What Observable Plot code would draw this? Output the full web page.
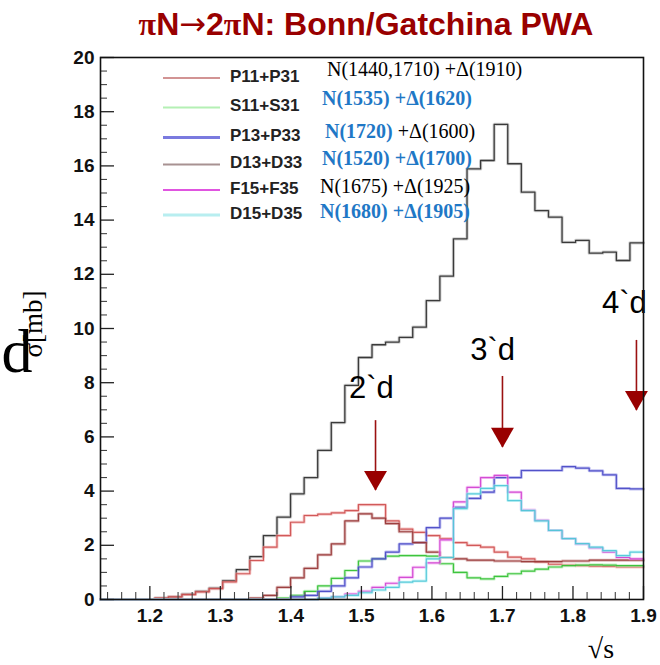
<!DOCTYPE html>
<html>
<head>
<meta charset="utf-8">
<script src="https://cdn.jsdelivr.net/npm/d3@7"></script>
<script src="https://cdn.jsdelivr.net/npm/@observablehq/plot@0.6"></script>
<style>
  body { margin: 0; background: #fff; }
  #wrap { position: relative; width: 660px; height: 665px; overflow: hidden;
          font-family: "Liberation Sans", Arial, sans-serif; }
  #title { position: absolute; left: 366px; top: 5px; transform: translateX(-50%);
           white-space: nowrap; font-weight: bold; font-size: 32px; color: #990000; }
  #title .gr { font-family: "Liberation Serif", serif; }
  #title .ar { font-family: "DejaVu Sans", sans-serif; font-weight: normal; }
  #chart { position: absolute; left: 0; top: 50px; }
  #overlay { position: absolute; left: 0; top: 0; pointer-events: none; }
</style>
</head>
<body>
<div id="wrap">
  <div id="title"><span class="gr">π</span>N<span class="ar">→</span>2<span class="gr">π</span>N: Bonn/Gatchina PWA</div>
  <div id="chart"></div>
</div>
<script>
// Histogram binning: 40 bins over sqrt(s) = 1.13 … 1.90 GeV
const xMin = 1.13, xMax = 1.90, nBins = 40;
const binEdges = d3.range(nBins + 1).map(i => xMin + (xMax - xMin) * i / nBins);

// Cross sections per bin [mb]
const total = [0, 0, 0, 0, 0.05, 0.1, 0.2, 0.3, 0.42, 0.7,
  1.1, 1.58, 2.36, 3.04, 3.9, 4.5, 5.5, 6.53, 7.9, 8.93,
  9.4, 9.5, 9.67, 10.05, 11.03, 11.93, 13.31, 15.89, 16.2, 17.53,
  16.08, 15.03, 14.35, 14.11, 13.18, 13.25, 12.78, 12.82, 12.51, 13.16];
const p11p31 = [0, 0, 0, 0, 0.05, 0.1, 0.18, 0.28, 0.4, 0.65,
  0.95, 1.44, 1.93, 2.36, 2.85, 3.1, 3.15, 3.2, 3.28, 3.5,
  3.5, 2.9, 2.6, 2.48, 2.36, 2.25, 2.1, 2.0, 1.93, 1.75,
  1.56, 1.5, 1.38, 1.3, 1.27, 1.25, 1.23, 1.22, 1.2, 1.2];
const s11s31 = [0, 0, 0, 0, 0, 0, 0, 0, 0, 0,
  0, 0, 0, 0.05, 0.15, 0.3, 0.5, 0.78, 1.07, 1.42,
  1.5, 1.6, 1.62, 1.62, 1.6, 1.32, 1.0, 0.8, 0.76, 0.85,
  0.95, 1.05, 1.12, 1.2, 1.25, 1.27, 1.28, 1.27, 1.25, 1.25];
const p13p33 = [0, 0, 0, 0, 0, 0, 0, 0, 0, 0,
  0, 0, 0, 0, 0.1, 0.15, 0.3, 0.5, 0.8, 1.2,
  1.5, 1.75, 2.05, 2.1, 2.65, 3.0, 3.4, 3.73, 3.96, 4.5,
  4.5, 4.76, 4.76, 4.76, 4.9, 4.85, 4.75, 4.6, 4.1, 4.08];
const d13d33 = [0, 0, 0, 0, 0, 0, 0, 0, 0, 0,
  0, 0.05, 0.15, 0.45, 0.8, 1.15, 1.65, 2.05, 2.9, 3.16,
  3.0, 2.8, 2.5, 2.1, 1.75, 1.55, 1.5, 1.45, 1.45, 1.42,
  1.42, 1.4, 1.4, 1.4, 1.42, 1.42, 1.45, 1.45, 1.45, 1.45];
const f15f35 = [0, 0, 0, 0, 0, 0, 0, 0, 0, 0,
  0, 0, 0, 0, 0, 0, 0.05, 0.1, 0.2, 0.3,
  0.45, 0.6, 0.82, 1.19, 1.35, 2.2, 3.6, 4.14, 4.5, 4.58,
  3.96, 3.3, 2.92, 2.55, 2.25, 2.05, 1.9, 1.75, 1.55, 1.5];
const d15d35 = [0, 0, 0, 0, 0, 0, 0, 0, 0, 0,
  0, 0, 0, 0, 0, 0, 0.05, 0.1, 0.15, 0.25,
  0.35, 0.45, 0.64, 0.68, 1.5, 1.55, 3.35, 3.9, 4.1, 4.2,
  3.65, 3.28, 2.9, 2.55, 2.25, 2.06, 1.93, 1.8, 1.62, 1.75];

// Legend entries and the resonances attributed to each wave pair
const waveNames = ["P11+P31", "S11+S31", "P13+P33", "D13+D33", "F15+F35", "D15+D35"];
const waveValues = [p11p31, s11s31, p13p33, d13d33, f15f35, d15d35];
const resonanceLabels = [
  [["N(1440,1710) +Δ(1910)", false]],
  [["N(1535) +Δ(1620)", true]],
  [["N(1720)", true], [" +Δ(1600)", false]],
  [["N(1520) +Δ(1700)", true]],
  [["N(1675) +Δ(1925)", false]],
  [["N(1680) +Δ(1905)", true]]
];

// Threshold arrows
const arrowText = ["2`d", "3`d", "4`d"];
const arrowX = [1.52, 1.70, 1.89];
const arrowTop = [6.6, 8.23, 9.56];
const arrowTip = [4.02, 5.61, 6.97];
const arrowTextX = [1.514, 1.686, 1.873];
const arrowTextY = [7.42, 8.82, 10.59];

// Axis ticks
const xMajor = [1.2, 1.3, 1.4, 1.5, 1.6, 1.7, 1.8, 1.9];
const yMajor = [0, 2, 4, 6, 8, 10, 12, 14, 16, 18, 20];
const xMinor = d3.range(57, 95, 1).map(k => k / 50).filter(v => Math.abs(v * 10 - Math.round(v * 10)) > 1e-6);
const yMinor = d3.range(1, 40, 1).map(k => k / 2).filter(v => v % 2 !== 0);

// ---- styles ----
const lineStyles = {
  "P11+P31": {stroke: "#cc4c4c", halo: "#f2a6a6", legend: "#d29494", lw: 2},
  "S11+S31": {stroke: "#2fbf2f", halo: "#a8eaa8", legend: "#b4f0b4", lw: 2},
  "P13+P33": {stroke: "#4646c4", halo: "#9a9ae8", legend: "#7a7adf", lw: 3},
  "D13+D33": {stroke: "#963232", halo: "#c89090", legend: "#a89292", lw: 2},
  "F15+F35": {stroke: "#cf3fcf", halo: "#f2a6f2", legend: "#e055e0", lw: 2},
  "D15+D35": {stroke: "#4cc6d6", halo: "#aaeef4", legend: "#b8eef0", lw: 3}
};

function steps(name, values) {
  return binEdges.map((x, i) => ({series: name, x, y: values[Math.min(i, values.length - 1)]}));
}

const W = 660, H = 615, mL = 100, mR = 17, mT = 7, mB = 66;
const plotW = W - mL - mR, plotH = H - mT - mB;

const histMarks = [];
histMarks.push(Plot.line(steps("total", total), {x: "x", y: "y", curve: "step-after", stroke: "#b4b4b4", strokeWidth: 3.2, strokeOpacity: 0.6}));
histMarks.push(Plot.line(steps("total", total), {x: "x", y: "y", curve: "step-after", stroke: "#3a3a3a", strokeWidth: 1.3}));
waveNames.forEach((name, k) => {
  const s = lineStyles[name];
  const rows = steps(name, waveValues[k]);
  histMarks.push(Plot.line(rows, {x: "x", y: "y", curve: "step-after", stroke: s.halo, strokeWidth: 3, strokeOpacity: 0.6}));
  histMarks.push(Plot.line(rows, {x: "x", y: "y", curve: "step-after", stroke: s.stroke, strokeWidth: 1.2, strokeOpacity: 0.9}));
});

const arrows = arrowText.map((t, i) => ({t, x: arrowX[i], top: arrowTop[i], tip: arrowTip[i], tx: arrowTextX[i], ty: arrowTextY[i]}));

const chart = Plot.plot({
  width: W, height: H,
  marginLeft: mL, marginRight: mR, marginTop: mT, marginBottom: mB,
  x: {domain: [xMin, xMax]},
  y: {domain: [0, 20]},
  style: {fontFamily: "'Liberation Sans', Arial, sans-serif", background: "white", color: "#111", overflow: "visible"},
  marks: [
    ...histMarks,
    Plot.ruleX(arrows, {x: "x", y1: "top", y2: "tip", stroke: "#9b1111", strokeWidth: 1.6}),
    Plot.dot(arrows, {x: "x", y: "tip", symbol: "triangle", r: 8.5, rotate: 180, dy: -13, fill: "#990000", stroke: "none"}),
    Plot.text(arrows, {x: "tx", y: "ty", text: "t", fontSize: 31, lineAnchor: "bottom", fill: "#000", fontFamily: "'Liberation Sans', Arial, sans-serif"}),
    Plot.tickY(yMajor, {y: d => d, stroke: "#222", strokeWidth: 1.3, insetRight: plotW - 14}),
    Plot.tickY(yMinor, {y: d => d, stroke: "#444", strokeWidth: 1.1, insetRight: plotW - 7}),
    Plot.tickX(xMajor, {x: d => d, stroke: "#222", strokeWidth: 1.3, insetTop: plotH - 13}),
    Plot.tickX(xMinor, {x: d => d, stroke: "#444", strokeWidth: 1.1, insetTop: plotH - 7}),
    Plot.axisX(xMajor, {tickSize: 0, tickPadding: 9, fontSize: 19, fontWeight: "bold", fill: "#111", tickFormat: d => d.toFixed(1), label: null}),
    Plot.axisY(yMajor, {tickSize: 0, tickPadding: 6, fontSize: 19, fontWeight: "bold", fill: "#111", tickFormat: d => String(d), label: null}),
    Plot.frame({stroke: "#111", strokeWidth: 1.6})
  ]
});
document.getElementById("chart").appendChild(chart);

// ---- legend, resonance notes and axis titles ----
const layout = {
  legendLineX: [163, 220], legendTextX: 230,
  legendRowY: [75.5, 105, 135, 162, 187.5, 212.5],
  noteX: [327, 322, 325, 322, 320, 320],
  noteY: [69, 98, 131, 158, 186, 211]
};
const ov = d3.select("#wrap").append("svg").attr("id", "overlay")
  .attr("width", 660).attr("height", 665);

waveNames.forEach((name, k) => {
  const s = lineStyles[name];
  ov.append("line")
    .attr("x1", layout.legendLineX[0]).attr("x2", layout.legendLineX[1])
    .attr("y1", layout.legendRowY[k] + 2.5).attr("y2", layout.legendRowY[k] + 2.5)
    .attr("stroke", s.legend).attr("stroke-width", s.lw);
  ov.append("text")
    .attr("x", layout.legendTextX).attr("y", layout.legendRowY[k]).attr("dy", "0.36em")
    .attr("font-family", "'Liberation Sans', Arial, sans-serif")
    .attr("font-weight", "bold").attr("font-size", 17).attr("fill", "#222")
    .text(name);
  const t = ov.append("text")
    .attr("x", layout.noteX[k]).attr("y", layout.noteY[k]).attr("dy", "0.35em")
    .attr("font-family", "'Liberation Serif', 'Times New Roman', serif")
    .attr("font-size", 20);
  resonanceLabels[k].forEach(([str, strong]) => {
    t.append("tspan").text(str)
      .attr("font-weight", strong ? "bold" : "normal")
      .attr("fill", strong ? "#1f78c6" : "#000");
  });
});

// y-axis title
ov.append("text").attr("x", 17).attr("y", 372).attr("text-anchor", "middle")
  .attr("font-family", "'Liberation Serif', serif").attr("font-size", 62).attr("fill", "#000").text("d");
ov.append("text").attr("transform", "translate(42,324) rotate(-90)").attr("text-anchor", "middle")
  .attr("font-family", "'Liberation Serif', serif").attr("font-size", 27).attr("fill", "#000").text("σ[mb]");
// x-axis title
ov.append("text").attr("x", 601).attr("y", 658).attr("text-anchor", "middle")
  .attr("font-family", "'Liberation Serif', 'DejaVu Serif', serif").attr("font-size", 28).attr("fill", "#000").text("√s");
</script>
</body>
</html>
